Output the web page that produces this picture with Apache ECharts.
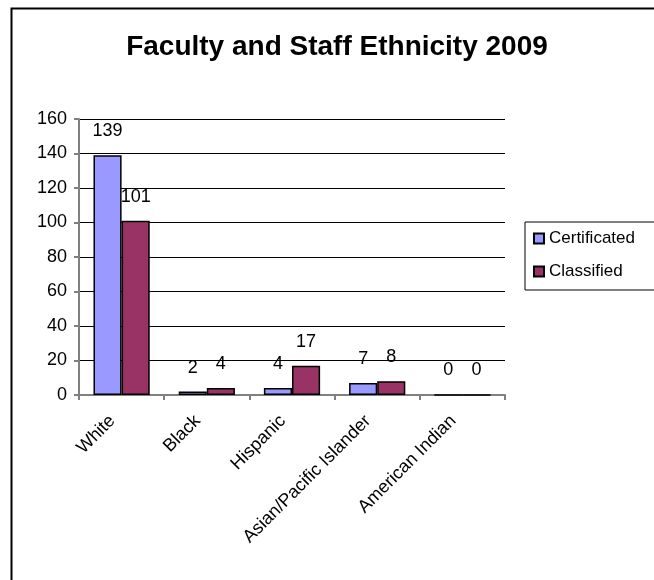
<!DOCTYPE html>
<html>
<head>
<meta charset="utf-8">
<script src="https://cdn.jsdelivr.net/npm/echarts@6/dist/echarts.min.js"></script>
<style>html,body{margin:0;padding:0;background:#fff;}#c{width:654px;height:580px;}</style>
</head>
<body>
<div id="c"></div>
<script>
const categories = ['White', 'Black', 'Hispanic', 'Asian/Pacific Islander', 'American Indian'];
const certificated = [139, 2, 4, 7, 0];
const classified = [101, 4, 17, 8, 0];
const yTicks = [0, 20, 40, 60, 80, 100, 120, 140, 160];

const chart = echarts.init(document.getElementById('c'), null, {renderer: 'canvas'});
const font = 'Liberation Sans, Arial, sans-serif';
const labelStyle = {show: true, position: 'top', distance: 15, color: '#000', fontSize: 18, fontFamily: font,
  formatter: p => String(p.value)};
chart.setOption({
  animation: false,
  backgroundColor: '#fff',
  title: {
    text: 'Faculty and Staff Ethnicity 2009',
    left: 332, top: 28, textAlign: 'center',
    textStyle: {fontFamily: font, fontSize: 28, fontWeight: 'bold', color: '#000'}
  },
  graphic: [{
    type: 'rect', left: 9, top: 6, shape: {width: 700, height: 650},
    style: {fill: 'none', stroke: '#000', lineWidth: 2}, silent: true
  }],
  legend: {
    left: 525, top: 222, orient: 'vertical',
    padding: [8, 60, 10, 8], itemGap: 16,
    borderColor: '#000', borderWidth: 1,
    itemWidth: 10, itemHeight: 10, icon: 'rect',
    textStyle: {fontFamily: font, fontSize: 17, color: '#000'},
    data: ['Certificated', 'Classified']
  },
  grid: {left: 79, right: 149, top: 119, bottom: 185, containLabel: false},
  xAxis: {
    type: 'category', data: categories,
    axisLine: {lineStyle: {color: '#808080', width: 2}},
    axisTick: {show: true, length: 5, lineStyle: {color: '#808080', width: 2}},
    axisLabel: {rotate: 45, interval: 0, margin: 14, padding: [0, 13, 0, 0], color: '#000', fontSize: 18, fontFamily: font}
  },
  yAxis: {
    type: 'value', min: 0, max: 160, interval: 20,
    axisLine: {show: true, lineStyle: {color: '#808080', width: 2}},
    axisTick: {show: true, length: 5, lineStyle: {color: '#808080', width: 2}},
    splitLine: {show: true, lineStyle: {color: '#000', width: 1}},
    axisLabel: {color: '#000', fontSize: 18, fontFamily: font, margin: 12,
      formatter: v => yTicks.includes(v) ? String(v) : ''}
  },
  series: [{
    name: 'Certificated', type: 'bar', data: certificated,
    barGap: '0%', barCategoryGap: '34%',
    itemStyle: {color: '#9999FF', borderColor: '#000', borderWidth: 1.5},
    label: labelStyle
  }, {
    name: 'Classified', type: 'bar', data: classified,
    barGap: '0%', barCategoryGap: '34%',
    itemStyle: {color: '#993366', borderColor: '#000', borderWidth: 1.5},
    label: labelStyle
  }]
});
</script>
</body>
</html>
